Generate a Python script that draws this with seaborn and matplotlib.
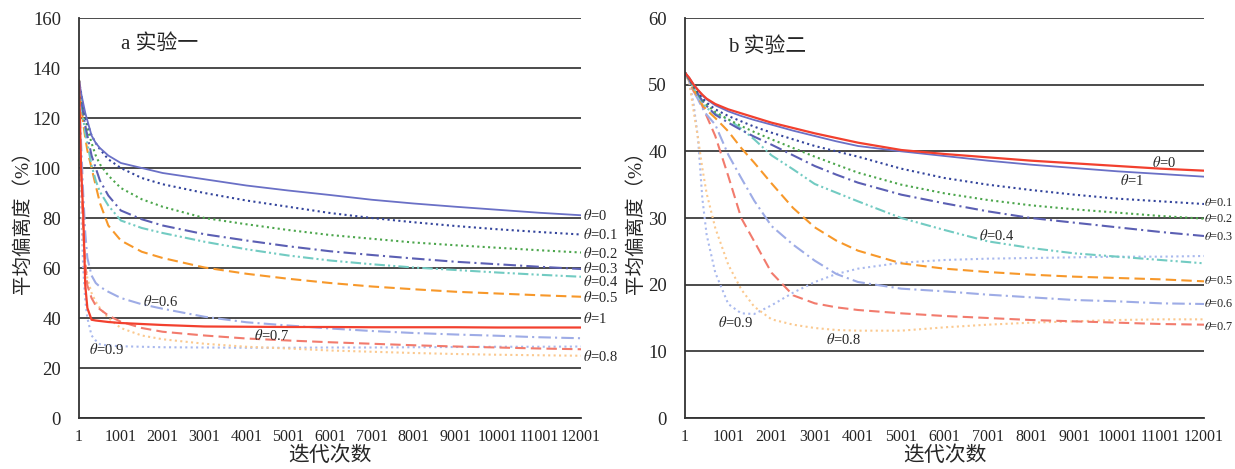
import pandas as pd
import matplotlib
matplotlib.use("Agg")
import matplotlib.pyplot as plt
import seaborn as sns

# panel a: iteration grid and values per theta
iters_a = [1, 51, 101, 151, 201, 301, 401, 501, 701, 1001, 1501, 2001, 3001, 4001,
           5001, 6001, 7001, 8001, 9001, 10001, 11001, 12001]
a_t0 = [135, 130, 126, 122, 119, 113, 110, 108, 105, 102, 100, 98, 95.5, 93, 91, 89.2, 87.3, 85.8, 84.5, 83.3, 82.1, 81.1]
a_t01 = [135, 130, 125, 121, 118, 113, 110, 107.5, 103.5, 100, 96, 93.5, 90, 87, 84.5, 82, 80, 78.3, 76.8, 75.5, 74.4, 73.4]
a_t02 = [135, 129, 124, 120, 116, 110, 105, 101.5, 97, 92, 87.5, 84.5, 80, 77.5, 75.2, 73.2, 71.7, 70.2, 69.1, 68.1, 67.1, 66.2]
a_t03 = [135, 128, 122, 117, 113, 105, 100, 95, 89, 83, 79.5, 77, 73.5, 71, 68.7, 66.7, 65.2, 63.8, 62.5, 61.5, 60.5, 59.6]
a_t04 = [135, 127, 120, 114, 110, 101, 95, 90.5, 85, 79, 76, 74, 70.5, 67.5, 65, 63, 61.5, 60.2, 59.2, 58.2, 57.3, 56.5]
a_t05 = [135, 125, 118, 112, 107, 100, 93, 86, 77, 71, 66.5, 64, 60.2, 57.7, 55.7, 54, 52.6, 51.5, 50.5, 49.8, 49.1, 48.5]
a_t06 = [130, 110, 90, 74, 64, 57, 54, 52.5, 50.5, 48, 45.5, 43.7, 40.5, 38.3, 37, 35.8, 34.8, 34, 33.4, 32.9, 32.3, 31.9]
a_t07 = [130, 100, 75, 62, 53, 48, 45, 43.5, 41, 38.5, 36, 34.5, 33, 31.8, 31, 30.3, 29.7, 29.1, 28.6, 28.2, 27.8, 27.5]
a_t08 = [128, 95, 70, 62, 56, 50, 46.5, 44, 40, 36, 33, 31.5, 29.7, 28.5, 27.8, 27, 26.5, 26, 25.6, 25.3, 25.1, 24.9]
a_t09 = [128, 85, 60, 47, 40, 33, 31, 29.5, 29, 28.7, 28.5, 28.3, 28.2, 28.1, 28.1, 28.2, 28.2, 28.3, 28.4, 28.5, 28.5, 28.6]
a_t1 = [135, 100, 82, 53, 44, 39.3, 39, 38.8, 38.4, 38, 37.6, 37.2, 36.6, 36.5, 36.4, 36.4, 36.3, 36.3, 36.3, 36.2, 36.2, 36.2]

# panel b
iters_b = [1, 101, 201, 301, 401, 501, 701, 1001, 1301, 1601, 2001, 2501, 3001, 3501,
           4001, 5001, 6001, 7001, 8001, 9001, 10001, 11001, 12001]
b_t0 = [51.8, 51.0, 50.0, 49.2, 48.4, 47.8, 46.9, 46.0, 45.3, 44.7, 44.0, 43.1, 42.3, 41.5, 40.8, 40.0, 39.3, 38.6, 38.0, 37.5, 37.0, 36.6, 36.2]
b_t1 = [51.8, 51.0, 50.0, 49.2, 48.5, 47.9, 47.1, 46.3, 45.7, 45.1, 44.3, 43.5, 42.7, 42.0, 41.3, 40.2, 39.6, 39.1, 38.6, 38.2, 37.8, 37.4, 37.1]
b_t01 = [51.8, 50.9, 49.8, 48.9, 48.0, 47.3, 46.3, 45.3, 44.5, 43.7, 42.8, 41.8, 40.8, 40.0, 39.2, 37.4, 36.0, 35.0, 34.2, 33.5, 32.9, 32.5, 32.1]
b_t02 = [51.8, 50.8, 49.7, 48.7, 47.8, 47.0, 45.9, 44.8, 43.8, 42.9, 41.8, 40.5, 39.2, 38.0, 36.8, 35.0, 33.7, 32.7, 31.9, 31.3, 30.8, 30.3, 29.9]
b_t03 = [51.8, 50.8, 49.6, 48.6, 47.6, 46.8, 45.5, 44.3, 43.2, 42.2, 41.0, 39.4, 37.8, 36.5, 35.3, 33.5, 32.2, 31.0, 30.0, 29.3, 28.6, 27.9, 27.3]
b_t04 = [51.8, 50.7, 49.5, 48.4, 47.3, 46.5, 45.6, 44.8, 43.4, 41.8, 39.4, 37.3, 35.1, 33.8, 32.5, 30.0, 28.2, 26.5, 25.5, 24.7, 24.2, 23.7, 23.2]
b_t05 = [51.8, 50.6, 49.3, 48.1, 47.0, 46.2, 45.0, 43.0, 40.5, 38.3, 35.2, 31.5, 28.6, 26.6, 25.1, 23.2, 22.4, 21.9, 21.5, 21.2, 21.0, 20.8, 20.5]
b_t06 = [51.8, 50.5, 49.0, 47.8, 46.5, 45.5, 44.0, 39.5, 36.0, 32.6, 28.8, 26.0, 23.6, 21.6, 20.4, 19.4, 19.0, 18.5, 18.1, 17.7, 17.5, 17.2, 17.1]
b_t07 = [51.8, 50.5, 49.0, 48.0, 46.8, 45.3, 42.3, 36.3, 30.0, 26.5, 21.8, 18.4, 17.2, 16.6, 16.2, 15.7, 15.3, 15.0, 14.7, 14.5, 14.3, 14.1, 14.0]
b_t08 = [51.8, 50.3, 46.0, 42.0, 37.5, 33.7, 28.5, 23.0, 19.3, 16.7, 14.8, 14.0, 13.5, 13.2, 13.1, 13.1, 13.6, 14.0, 14.3, 14.5, 14.7, 14.8, 14.8]
b_t09 = [51.8, 50.5, 47.0, 42.0, 33.0, 27.5, 21.8, 17.1, 15.7, 15.6, 16.9, 18.8, 20.4, 21.6, 22.4, 23.3, 23.7, 23.9, 24.0, 24.1, 24.2, 24.2, 24.3]

thetas = ["0", "0.1", "0.2", "0.3", "0.4", "0.5", "0.6", "0.7", "0.8", "0.9", "1"]
x_ticks = [1, 1001, 2001, 3001, 4001, 5001, 6001, 7001, 8001, 9001, 10001, 11001, 12001]

colors = {"0": "#6a70c6", "0.1": "#33449c", "0.2": "#4ca64c", "0.3": "#5b5fb3",
          "0.4": "#72cbc2", "0.5": "#f7982a", "0.6": "#9eace6", "0.7": "#f27b6d",
          "0.8": "#fbc98f", "0.9": "#a9b9ee", "1": "#f2402e"}
dashes = {"0": "", "0.1": (1, 1.6), "0.2": (1, 1.6), "0.3": (6, 2, 1, 2),
          "0.4": (5, 1.5, 1, 1.5, 1, 1.5), "0.5": (5, 2.5), "0.6": (6, 2, 1, 2),
          "0.7": (5, 2.5), "0.8": (1, 1.6), "0.9": (1, 1.6), "1": ""}
widths = {"0": 1.3, "1": 1.6}


def long_df(iters, series):
    rows = []
    for th, vals in zip(thetas, series):
        for it, v in zip(iters, vals):
            rows.append({"iter": it, "val": v, "theta": th})
    return pd.DataFrame(rows)


df_a = long_df(iters_a, [a_t0, a_t01, a_t02, a_t03, a_t04, a_t05, a_t06, a_t07, a_t08, a_t09, a_t1])
df_b = long_df(iters_b, [b_t0, b_t01, b_t02, b_t03, b_t04, b_t05, b_t06, b_t07, b_t08, b_t09, b_t1])

sns.set_style("white")
plt.rcParams["font.family"] = ["Liberation Serif", "Noto Sans CJK SC", "DejaVu Sans"]
plt.rcParams["mathtext.fontset"] = "stix"

fig = plt.figure(figsize=(12.35, 4.69), dpi=100)
ax1 = fig.add_axes([79 / 1235, 51 / 469, 502 / 1235, 400 / 469])
ax2 = fig.add_axes([685 / 1235, 51 / 469, 519 / 1235, 400 / 469])


def draw(ax, df, ymax, ystep):
    # dotted/dashed ones first, solid ones on top
    order = ["0.9", "0.8", "0.7", "0.6", "0.5", "0.4", "0.3", "0.2", "0.1", "0", "1"]
    for th in order:
        sub = df[df["theta"] == th]
        sns.lineplot(data=sub, x="iter", y="val", ax=ax, color=colors[th],
                     lw=widths.get(th, 1.5), legend=False)
        if dashes[th]:
            ax.lines[-1].set_dashes(dashes[th])
    ax.set_xlim(1, 12001)
    ax.set_ylim(0, ymax)
    ax.set_xticks(x_ticks)
    ax.set_xticklabels([str(t) for t in x_ticks], fontsize=11.5)
    ax.set_yticks(range(0, ymax + 1, ystep))
    ax.tick_params(axis="y", labelsize=13.5, length=5, width=1.2, color="#333333", pad=8)
    ax.tick_params(axis="x", length=4, width=1, color="#333333", pad=4, direction="out")
    ax.yaxis.grid(True, color="#3d3d3d", lw=1.3)
    ax.set_axisbelow(True)
    for s in ["top", "right"]:
        ax.spines[s].set_visible(False)
    for s in ["left", "bottom"]:
        ax.spines[s].set_color("#333333")
        ax.spines[s].set_linewidth(1.3)
    ax.set_xlabel("迭代次数", fontsize=15)
    ax.set_ylabel("平均偏离度（%）", fontsize=14)


draw(ax1, df_a, 160, 20)
draw(ax2, df_b, 60, 10)
ax1.yaxis.set_label_coords(-0.094, 0.5)
ax2.yaxis.set_label_coords(-0.077, 0.5)
ax1.xaxis.set_label_coords(0.5, -0.072)
ax2.xaxis.set_label_coords(0.5, -0.072)

lab_kw = dict(fontsize=10.5, va="center", ha="left", clip_on=False)

ax1.text(1004, 149.6, "a 实验一", fontsize=15, va="center")
a_right_labels = {"0": 81, "0.1": 73.5, "0.2": 66, "0.3": 60, "0.4": 54.5, "0.5": 48.3, "1": 40, "0.8": 24.6}
for th, y in a_right_labels.items():
    ax1.text(12050, y, r"$\theta$=" + th, **lab_kw)
ax1.text(1520, 46.5, r"$\theta$=0.6", **lab_kw)
ax1.text(4175, 33.2, r"$\theta$=0.7", **lab_kw)
ax1.text(240, 27.3, r"$\theta$=0.9", **lab_kw)

ax2.text(994, 55.6, "b 实验二", fontsize=15, va="center")
b_right_labels = {"0.1": 32.2, "0.2": 29.8, "0.3": 27.2, "0.5": 20.5, "0.6": 17.1, "0.7": 13.6}
for th, y in b_right_labels.items():
    ax2.text(12010, y, r"$\theta$=" + th, fontsize=8.8, va="center", ha="left", clip_on=False)
ax2.text(10795, 38.4, r"$\theta$=0", **lab_kw)
ax2.text(10070, 35.6, r"$\theta$=1", **lab_kw)
ax2.text(6800, 27.4, r"$\theta$=0.4", **lab_kw)
ax2.text(770, 14.3, r"$\theta$=0.9", **lab_kw)
ax2.text(3265, 11.8, r"$\theta$=0.8", **lab_kw)

fig.savefig("out.png", dpi=100)
